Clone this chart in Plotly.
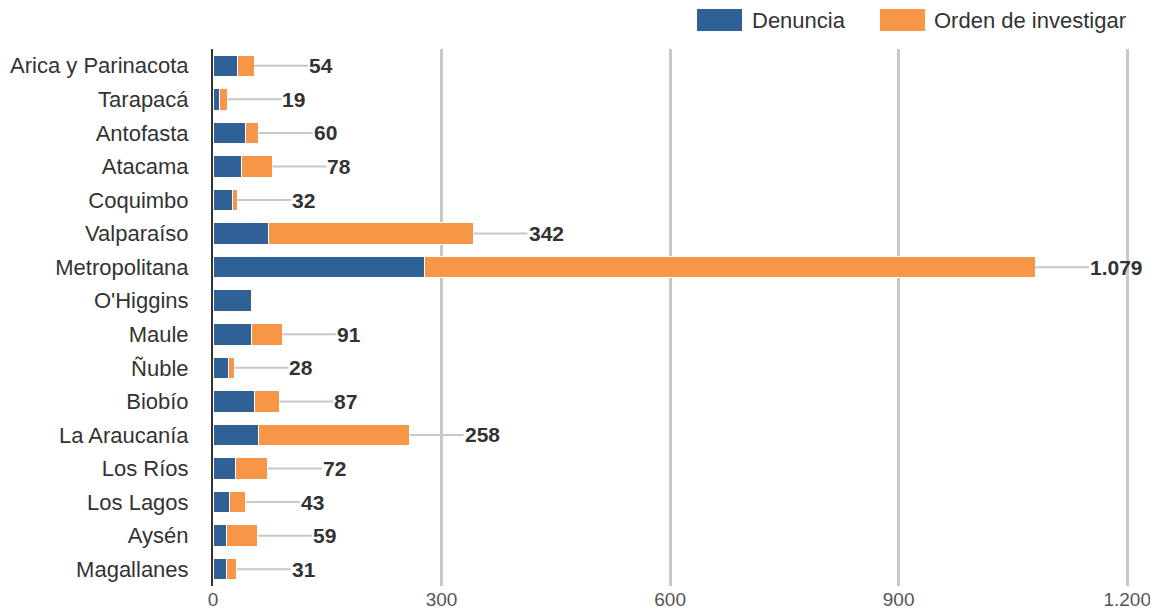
import plotly.graph_objects as go

regiones = ["Arica y Parinacota", "Tarapacá", "Antofasta", "Atacama", "Coquimbo",
            "Valparaíso", "Metropolitana", "O'Higgins", "Maule", "Ñuble", "Biobío",
            "La Araucanía", "Los Ríos", "Los Lagos", "Aysén", "Magallanes"]
denuncia = [32, 9, 42, 37, 25, 73, 278, 50, 50, 20, 54, 60, 30, 22, 18, 18]
orden = [22, 10, 18, 41, 7, 269, 801, 0, 41, 8, 33, 198, 42, 21, 41, 13]
etiquetas = ["54", "19", "60", "78", "32", "342", "1.079", "", "91", "28", "87",
             "258", "72", "43", "59", "31"]
tick_vals = [0, 300, 600, 900, 1200]
tick_text = ["0", "300", "600", "900", "1.200"]

BLUE = "#2f6196"
ORANGE = "#f79646"
FONT = "Liberation Sans, Arial, sans-serif"

# page body has an 8px offset
OFF = 8
PLOT_L, PLOT_T = 213, 49          # on-screen plot area origin
PLOT_W, PLOT_H = 918, 537
X_MAX = 1205

fig = go.Figure()
fig.add_trace(go.Bar(y=regiones, x=denuncia, orientation="h", name="Denuncia",
                     marker=dict(color=BLUE, line=dict(color="white", width=1))))
fig.add_trace(go.Bar(y=regiones, x=orden, orientation="h", name="Orden de investigar",
                     marker=dict(color=ORANGE, line=dict(color="white", width=1))))

annotations = []
for reg, d, o, lab in zip(regiones, denuncia, orden, etiquetas):
    if not lab:
        continue
    annotations.append(dict(
        x=d + o, y=reg, xref="x", yref="y", text=lab,
        showarrow=True, arrowhead=0, arrowwidth=2, arrowcolor="#c8c8c8",
        ax=54, ay=0, xanchor="left", standoff=0, startstandoff=0,
        borderpad=0,
        font=dict(family=FONT, size=21, color="#333333", weight="bold"),
    ))

def px_x(p):
    return (p - PLOT_L) / PLOT_W

def px_y(p):
    return 1 + (PLOT_T - p) / PLOT_H

shapes = [
    dict(type="rect", xref="paper", yref="paper", x0=px_x(697), x1=px_x(742),
         y0=px_y(31), y1=px_y(9), fillcolor=BLUE, line=dict(width=0)),
    dict(type="rect", xref="paper", yref="paper", x0=px_x(880), x1=px_x(925),
         y0=px_y(31), y1=px_y(9), fillcolor=ORANGE, line=dict(width=0)),
]
annotations += [
    dict(xref="paper", yref="paper", x=px_x(750), y=px_y(20), text="Denuncia",
         showarrow=False, xanchor="left", yanchor="middle",
         font=dict(family=FONT, size=22, color="#333333")),
    dict(xref="paper", yref="paper", x=px_x(932), y=px_y(20), text="Orden de investigar",
         showarrow=False, xanchor="left", yanchor="middle",
         font=dict(family=FONT, size=22, color="#333333")),
]

W, H = 1158, 613
fig.update_layout(
    barmode="stack", bargap=0.36,
    width=W, height=H,
    margin=dict(l=PLOT_L - OFF, r=W - (PLOT_L - OFF) - PLOT_W,
                t=PLOT_T - OFF, b=H - (PLOT_T - OFF) - PLOT_H),
    plot_bgcolor="white", paper_bgcolor="white",
    showlegend=False,
    shapes=shapes, annotations=annotations,
    xaxis=dict(range=[0, X_MAX], tickvals=tick_vals, ticktext=tick_text,
               automargin=False,
               showgrid=True, gridcolor="#c8c8c8", gridwidth=3,
               zeroline=False, showline=False,
               tickfont=dict(family=FONT, size=19, color="#555555")),
    yaxis=dict(categoryorder="array", categoryarray=regiones, autorange="reversed",
               automargin=False,
               showgrid=False, showline=True, linecolor="#333333", linewidth=2,
               ticks="", ticklabelstandoff=18,
               tickfont=dict(family=FONT, size=22, color="#333333")),
)

fig.write_html("out.html")
